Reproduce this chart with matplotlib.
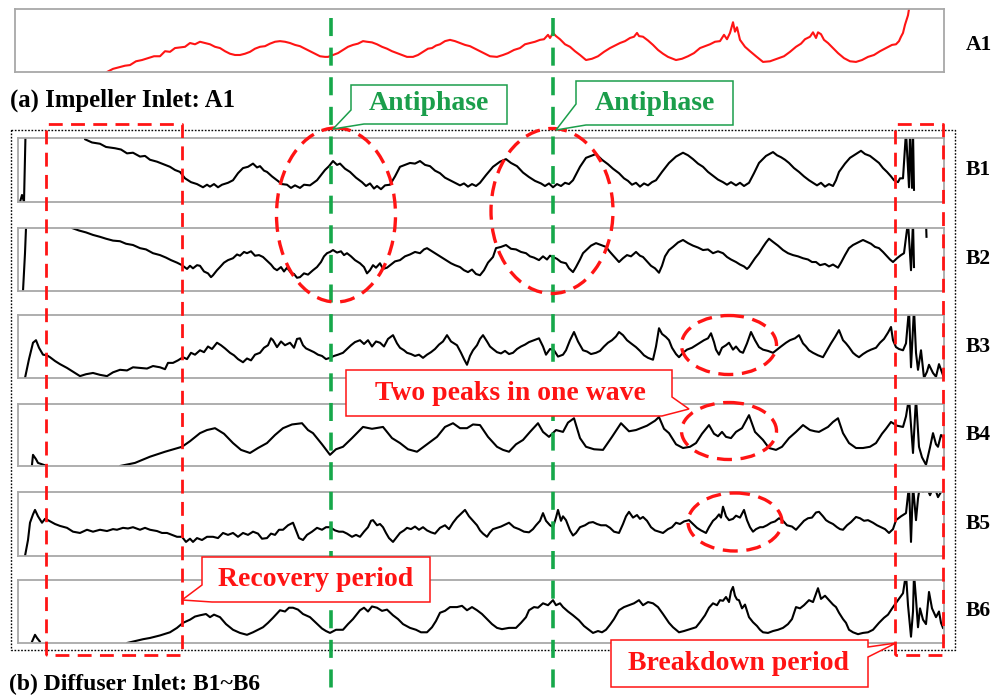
import numpy as np
import matplotlib.pyplot as plt
from matplotlib.patches import Ellipse, Polygon

plt.rcParams['font.family'] = ['Liberation Serif', 'DejaVu Serif']

# pressure traces: sample index vs. normalised pressure (% of panel range)
t_a1 = [107, 113, 120, 125, 130, 136, 142, 148, 154, 160, 165, 170, 175, 180, 185, 190, 195, 200, 205, 210,
        215, 220, 225, 230, 235, 240, 245, 250, 255, 260, 265, 270, 275, 280, 285, 290, 295, 300, 305, 310,
        315, 320, 325, 328, 333, 338, 343, 348, 353, 358, 363, 367, 372, 377, 382, 387, 392, 397, 402, 407,
        413, 418, 423, 428, 432, 436, 440, 445, 450, 455, 460, 465, 470, 475, 480, 485, 490, 497, 503, 508,
        514, 520, 525, 530, 535, 540, 544, 548, 550, 553, 556, 560, 565, 570, 575, 580, 586, 592, 598, 604,
        610, 615, 620, 625, 630, 634, 637, 639, 643, 648, 653, 658, 663, 668, 676, 682, 688, 694, 700, 705,
        710, 715, 720, 724, 727, 730, 733, 735, 737, 740, 745, 750, 756, 763, 770, 777, 784, 790, 796, 801,
        805, 810, 813, 816, 818, 821, 824, 828, 833, 838, 844, 850, 856, 862, 868, 874, 880, 886, 892, 896,
        899, 901, 903, 905, 908, 910]
p_a1 = [0, 5, 8, 10, 11, 17, 19, 22, 25, 25, 33, 32, 38, 39, 40, 46, 44, 48, 46, 44,
        40, 38, 33, 29, 27, 27, 29, 32, 37, 40, 41, 45, 48, 49, 48, 46, 43, 41, 37, 33,
        29, 25, 24, 24, 27, 30, 35, 40, 43, 45, 49, 48, 47, 44, 40, 37, 33, 30, 27, 24,
        24, 27, 32, 37, 38, 42, 44, 49, 51, 49, 46, 43, 41, 37, 33, 29, 25, 24, 27, 30,
        35, 38, 44, 46, 48, 51, 52, 59, 54, 62, 57, 52, 44, 40, 33, 27, 19, 21, 25, 32,
        38, 42, 46, 49, 54, 56, 62, 57, 56, 50, 43, 35, 29, 24, 19, 21, 25, 30, 38, 41,
        44, 48, 49, 59, 52, 62, 79, 64, 71, 51, 40, 33, 25, 16, 17, 21, 25, 32, 40, 45,
        52, 56, 63, 54, 63, 60, 51, 46, 38, 30, 22, 17, 16, 19, 24, 27, 33, 38, 43, 44,
        49, 56, 62, 75, 90, 110]

t_b1 = [20, 22, 24, 25, 26, 84, 85, 92, 100, 106, 115, 121, 127, 133, 140, 145, 150, 157, 165, 170,
        175, 180, 185, 191, 197, 203, 207, 210, 214, 218, 222, 228, 233, 238, 243, 248, 253, 257, 260, 264,
        267, 272, 277, 282, 287, 291, 295, 300, 304, 310, 317, 321, 325, 329, 333, 337, 340, 345, 350, 356,
        362, 366, 370, 374, 377, 381, 385, 390, 395, 400, 405, 410, 415, 420, 425, 430, 435, 440, 445, 450,
        455, 460, 464, 468, 472, 476, 480, 486, 493, 500, 506, 511, 517, 523, 529, 535, 541, 545, 549, 553,
        557, 561, 565, 569, 573, 580, 586, 591, 596, 602, 608, 613, 619, 624, 628, 632, 636, 640, 644, 648,
        652, 656, 662, 669, 676, 683, 688, 693, 698, 703, 708, 713, 718, 723, 727, 731, 736, 740, 744, 749,
        754, 759, 766, 773, 777, 781, 785, 789, 794, 799, 804, 809, 813, 817, 821, 825, 829, 833, 836, 839,
        845, 850, 855, 861, 865, 870, 875, 879, 883, 887, 891, 894, 898, 900, 903, 906, 909, 910, 912, 913,
        914]
p_b1 = [0, 11, 0, 70, 140, 140, 98, 93, 91, 86, 84, 82, 76, 77, 71, 72, 66, 63, 58, 55,
        50, 47, 37, 31, 28, 23, 27, 24, 28, 23, 27, 30, 34, 45, 53, 55, 60, 54, 56, 49,
        47, 40, 34, 28, 27, 22, 26, 22, 27, 26, 34, 42, 50, 56, 64, 58, 60, 52, 47, 38,
        31, 25, 29, 21, 25, 20, 26, 27, 40, 55, 58, 61, 60, 64, 58, 56, 49, 45, 38, 34,
        30, 26, 29, 24, 28, 25, 30, 42, 55, 63, 67, 61, 56, 46, 39, 33, 29, 25, 29, 23,
        28, 25, 30, 28, 34, 55, 69, 72, 75, 66, 59, 52, 45, 37, 33, 27, 30, 24, 29, 26,
        31, 34, 47, 61, 71, 77, 73, 67, 60, 55, 47, 41, 35, 31, 27, 31, 26, 30, 25, 30,
        45, 61, 72, 78, 73, 70, 66, 61, 53, 47, 40, 34, 30, 26, 30, 24, 28, 25, 34, 47,
        60, 69, 74, 80, 75, 72, 66, 61, 53, 47, 40, 34, 31, 37, 37, 110, 23, 110, 22, 110,
        19]

t_b2 = [23, 25, 27, 71, 72, 79, 86, 93, 100, 106, 113, 120, 126, 133, 140, 146, 153, 160, 166, 171,
        177, 182, 187, 190, 193, 197, 200, 204, 208, 211, 213, 217, 220, 224, 228, 233, 237, 240, 244, 247,
        251, 255, 259, 263, 267, 271, 274, 277, 281, 284, 287, 291, 294, 297, 300, 304, 308, 313, 317, 321,
        324, 327, 330, 333, 337, 341, 344, 347, 351, 355, 360, 364, 367, 370, 373, 376, 380, 383, 387, 391,
        395, 400, 405, 410, 415, 420, 424, 427, 431, 435, 439, 443, 447, 451, 455, 460, 464, 468, 472, 476,
        480, 484, 488, 493, 496, 501, 506, 511, 516, 521, 526, 530, 534, 539, 543, 547, 550, 553, 557, 561,
        566, 569, 573, 576, 580, 583, 587, 591, 596, 601, 606, 610, 614, 619, 623, 627, 631, 636, 640, 643,
        647, 651, 655, 659, 662, 665, 669, 673, 678, 683, 688, 693, 698, 703, 708, 713, 718, 723, 727, 731,
        736, 740, 744, 747, 749, 752, 755, 759, 763, 766, 769, 773, 778, 783, 788, 793, 798, 803, 808, 812,
        816, 820, 825, 829, 833, 838, 841, 845, 849, 853, 858, 863, 867, 871, 875, 879, 883, 887, 890, 893,
        897, 901, 904, 908, 911, 913, 914, 920, 926, 926.5]
p_b2 = [0, 60, 140, 140, 100, 96, 93, 89, 86, 83, 80, 79, 75, 73, 68, 66, 60, 57, 53, 49,
        45, 41, 35, 40, 36, 41, 40, 31, 28, 22, 25, 33, 38, 45, 49, 52, 58, 56, 62, 60,
        63, 56, 57, 54, 48, 42, 36, 33, 38, 31, 37, 29, 27, 21, 22, 28, 26, 33, 38, 46,
        55, 60, 62, 65, 61, 63, 57, 60, 55, 49, 44, 38, 28, 33, 41, 37, 44, 35, 37, 42,
        47, 49, 55, 58, 62, 60, 66, 68, 64, 60, 56, 52, 48, 44, 41, 38, 33, 30, 34, 27,
        25, 33, 45, 54, 68, 70, 73, 67, 66, 62, 60, 55, 53, 49, 55, 50, 56, 54, 51, 46,
        44, 36, 30, 38, 50, 60, 66, 72, 76, 73, 70, 62, 55, 46, 52, 57, 55, 62, 56, 54,
        47, 40, 36, 29, 40, 55, 65, 70, 77, 81, 76, 72, 69, 65, 66, 60, 63, 60, 54, 50,
        46, 42, 39, 35, 38, 45, 52, 60, 70, 77, 83, 78, 72, 65, 60, 57, 55, 52, 50, 46,
        46, 41, 43, 39, 42, 37, 45, 57, 68, 73, 77, 81, 78, 75, 70, 68, 62, 55, 50, 46,
        52, 57, 60, 110, 33, 110, 38, np.nan, 110, 86]

t_b3 = [25, 29, 33, 36, 39, 43, 47, 50, 55, 60, 67, 73, 80, 86, 93, 100, 107, 113, 120, 127,
        133, 140, 147, 153, 160, 165, 168, 173, 178, 183, 187, 191, 195, 200, 204, 208, 212, 217, 221, 225,
        230, 234, 238, 243, 247, 251, 255, 260, 264, 268, 271, 273, 277, 281, 285, 290, 294, 297, 300, 303,
        306, 310, 314, 318, 322, 326, 330, 334, 338, 343, 347, 351, 355, 360, 364, 368, 372, 376, 380, 384,
        388, 393, 397, 400, 404, 407, 411, 415, 419, 423, 427, 431, 435, 439, 443, 447, 451, 454, 457, 461,
        464, 467, 470, 473, 477, 480, 483, 487, 490, 493, 497, 501, 505, 509, 513, 517, 521, 525, 529, 534,
        539, 543, 546, 550, 554, 558, 563, 566, 570, 574, 578, 583, 587, 591, 596, 600, 604, 608, 612, 616,
        619, 623, 627, 631, 636, 640, 644, 648, 653, 656, 659, 662, 666, 669, 672, 676, 679, 683, 687, 692,
        696, 700, 704, 708, 711, 714, 716, 719, 722, 726, 729, 733, 736, 740, 743, 747, 751, 755, 759, 763,
        768, 773, 777, 781, 786, 790, 795, 799, 803, 806, 809, 813, 818, 823, 827, 831, 835, 839, 843, 846,
        849, 853, 856, 859, 863, 867, 871, 876, 880, 884, 888, 891, 893, 896, 899, 903, 906, 909, 911, 914,
        916, 918, 921, 924, 927, 929, 933, 936, 939, 941, 944]
p_b3 = [0, 30, 56, 60, 48, 37, 36, 33, 27, 22, 16, 10, 3, 6, 8, 5, 3, 9, 13, 12,
        17, 16, 15, 19, 17, 14, 24, 24, 28, 33, 30, 40, 37, 44, 41, 50, 46, 56, 52, 47,
        40, 36, 30, 25, 31, 28, 37, 40, 48, 52, 63, 60, 49, 58, 52, 56, 48, 62, 63, 52,
        47, 44, 41, 37, 35, 30, 32, 35, 37, 40, 46, 52, 57, 60, 54, 60, 50, 58, 56, 50,
        62, 68, 55, 48, 44, 40, 38, 35, 37, 32, 37, 41, 46, 53, 58, 68, 58, 55, 52, 40,
        30, 21, 35, 44, 52, 62, 68, 58, 50, 46, 41, 39, 43, 38, 40, 46, 50, 53, 57, 60,
        63, 50, 37, 46, 44, 34, 37, 44, 60, 73, 58, 44, 42, 38, 40, 43, 50, 56, 60, 66,
        73, 68, 60, 55, 49, 43, 36, 32, 29, 50, 79, 70, 65, 60, 48, 38, 33, 40, 45, 48,
        52, 56, 60, 63, 71, 57, 45, 37, 48, 52, 56, 45, 50, 42, 40, 55, 73, 60, 49, 45,
        43, 40, 45, 50, 56, 60, 63, 68, 55, 50, 44, 40, 36, 33, 44, 55, 65, 76, 60, 55,
        49, 40, 36, 33, 38, 42, 45, 48, 56, 62, 72, 81, 60, 49, 46, 44, 55, 110, 17, 110,
        40, 13, 44, 0, 10, 21, 8, 2, 22, 13, 0]

t_b4 = [32, 33, 36, 38, 47, 48, 118, 120, 135, 150, 165, 182, 190, 200, 207, 215, 224, 233, 241, 250,
        258, 267, 275, 283, 292, 302, 308, 313, 322, 330, 336, 343, 352, 363, 372, 383, 392, 400, 408, 417,
        427, 437, 445, 453, 460, 467, 473, 480, 488, 497, 503, 509, 516, 523, 530, 538, 543, 549, 556, 563,
        568, 574, 580, 586, 594, 603, 612, 621, 629, 636, 647, 655, 659, 664, 669, 676, 683, 690, 696, 702,
        709, 714, 718, 722, 726, 731, 736, 742, 749, 755, 763, 769, 776, 782, 789, 796, 803, 810, 815, 819,
        828, 833, 838, 843, 849, 856, 863, 870, 876, 882, 886, 891, 897, 903, 906, 909, 913, 916, 919, 922,
        926, 930, 933, 936, 938, 941, 944]
p_b4 = [2, 18, 11, 5, 0, -30, -30, 0, 5, 15, 23, 31, 40, 53, 58, 61, 52, 37, 26, 21,
        29, 37, 50, 61, 67, 69, 58, 53, 35, 18, 27, 31, 45, 63, 60, 63, 45, 37, 27, 23,
        35, 47, 63, 69, 61, 61, 67, 66, 47, 31, 26, 23, 35, 42, 55, 69, 55, 47, 58, 55,
        70, 77, 45, 31, 27, 26, 47, 69, 56, 58, 65, 73, 79, 60, 53, 35, 29, 31, 37, 52,
        66, 52, 48, 55, 47, 45, 55, 61, 82, 55, 42, 29, 26, 31, 45, 55, 66, 58, 56, 55,
        63, 71, 77, 53, 37, 29, 29, 31, 37, 52, 60, 71, 65, 63, 80, 110, 21, 110, 31, 14,
        2, 30, 53, 35, 31, 50, 45]

t_b5 = [25, 28, 30, 33, 35, 38, 42, 45, 48, 55, 60, 67, 73, 80, 87, 93, 100, 107, 113, 117,
        123, 128, 133, 140, 145, 150, 157, 162, 167, 172, 177, 182, 186, 190, 193, 197, 202, 207, 213, 218,
        223, 228, 233, 238, 243, 248, 253, 258, 262, 267, 271, 275, 279, 283, 288, 293, 296, 299, 303, 307,
        312, 317, 322, 326, 330, 335, 339, 343, 347, 352, 356, 360, 364, 368, 371, 373, 377, 380, 383, 386,
        389, 393, 397, 400, 404, 407, 411, 415, 419, 423, 427, 431, 435, 440, 445, 449, 453, 457, 461, 465,
        469, 473, 477, 480, 483, 487, 490, 493, 497, 501, 505, 509, 514, 519, 524, 529, 533, 536, 540, 543,
        546, 550, 553, 556, 558, 561, 563, 566, 570, 573, 576, 580, 585, 589, 593, 597, 601, 606, 610, 614,
        619, 623, 626, 629, 633, 637, 640, 643, 647, 651, 655, 659, 663, 668, 672, 676, 680, 684, 689, 693,
        697, 701, 706, 709, 713, 716, 719, 721, 723, 726, 729, 733, 736, 740, 744, 747, 750, 753, 756, 760,
        763, 767, 771, 775, 779, 783, 787, 792, 796, 800, 804, 808, 812, 816, 819, 823, 826, 829, 833, 837,
        840, 843, 847, 851, 856, 860, 864, 868, 873, 877, 881, 885, 889, 893, 896, 901, 906, 909, 911, 913,
        916, 918, 920, 923, 926, 930, 934, 938, 941, 944]
p_b5 = [0, 25, 52, 65, 72, 62, 52, 58, 56, 50, 47, 44, 38, 36, 41, 38, 41, 39, 42, 41,
        44, 43, 45, 41, 44, 41, 39, 36, 36, 33, 30, 30, 22, 27, 22, 28, 25, 30, 30, 28,
        36, 33, 36, 30, 36, 33, 38, 35, 27, 28, 35, 33, 41, 41, 48, 52, 40, 28, 25, 33,
        38, 44, 41, 45, 45, 40, 38, 38, 35, 30, 33, 30, 38, 45, 55, 56, 48, 50, 45, 36,
        28, 22, 30, 36, 40, 44, 42, 46, 41, 45, 40, 37, 35, 44, 48, 42, 52, 60, 66, 72,
        62, 55, 48, 40, 35, 30, 37, 42, 44, 46, 49, 52, 45, 42, 38, 37, 42, 48, 55, 67,
        55, 48, 45, 60, 72, 55, 62, 56, 40, 32, 36, 45, 48, 52, 53, 50, 48, 48, 44, 38,
        36, 50, 62, 69, 60, 64, 58, 61, 55, 45, 40, 38, 36, 42, 45, 52, 50, 54, 56, 50,
        44, 40, 36, 45, 55, 59, 65, 60, 77, 62, 56, 58, 63, 60, 72, 56, 45, 38, 42, 45,
        45, 48, 52, 54, 59, 55, 48, 46, 41, 48, 55, 59, 60, 68, 69, 62, 56, 53, 50, 45,
        42, 41, 48, 53, 61, 59, 55, 56, 52, 48, 45, 42, 36, 42, 56, 62, 67, 110, 22, 110,
        56, 90, 110, 100, 110, 95, 110, 92, 100, 110]

t_b6 = [32, 35, 37, 40, 42, 125, 127, 135, 143, 150, 160, 170, 177, 183, 190, 195, 200, 206, 210, 214,
        220, 226, 233, 240, 247, 253, 258, 263, 268, 273, 280, 285, 289, 293, 298, 303, 310, 316, 322, 326,
        330, 336, 343, 348, 353, 360, 364, 368, 372, 377, 382, 387, 393, 398, 403, 410, 416, 421, 427, 432,
        436, 440, 445, 450, 457, 462, 467, 472, 477, 482, 487, 492, 497, 502, 509, 516, 521, 526, 529, 534,
        538, 543, 548, 553, 556, 560, 563, 568, 573, 579, 584, 589, 593, 598, 602, 606, 610, 614, 619, 624,
        629, 634, 639, 643, 648, 653, 658, 663, 669, 673, 676, 679, 684, 690, 696, 700, 705, 709, 713, 717,
        720, 723, 726, 729, 731, 733, 735, 737, 739, 742, 745, 749, 753, 757, 760, 763, 768, 773, 778, 783,
        788, 792, 796, 800, 804, 809, 813, 816, 818, 821, 825, 829, 833, 836, 839, 843, 846, 849, 853, 858,
        863, 868, 873, 879, 884, 888, 893, 898, 903, 906, 908, 911, 913, 914, 916, 918, 920, 923, 926, 929,
        932, 936, 939, 941, 943]
p_b6 = [2, 13, 8, 2, -30, -30, 0, 3, 6, 8, 12, 17, 24, 32, 37, 42, 44, 46, 41, 45,
        41, 30, 21, 16, 13, 17, 21, 25, 32, 40, 52, 50, 56, 56, 53, 46, 41, 32, 23, 19,
        16, 21, 21, 30, 38, 52, 56, 50, 58, 56, 51, 53, 44, 38, 30, 24, 21, 17, 17, 25,
        35, 48, 51, 57, 57, 59, 52, 57, 52, 46, 38, 30, 24, 22, 24, 24, 32, 41, 52, 57,
        56, 63, 60, 68, 60, 63, 57, 50, 44, 36, 27, 21, 16, 19, 17, 21, 29, 38, 52, 57,
        60, 63, 68, 60, 65, 63, 57, 46, 32, 25, 21, 17, 19, 22, 25, 33, 44, 56, 63, 60,
        68, 67, 73, 65, 82, 89, 75, 69, 68, 55, 61, 41, 33, 27, 21, 17, 16, 19, 21, 24,
        30, 38, 57, 55, 60, 68, 65, 78, 87, 70, 75, 68, 61, 57, 48, 38, 32, 21, 17, 14,
        16, 17, 21, 32, 40, 45, 57, 68, 79, 110, 60, 10, 50, 110, 70, 25, 55, 37, 30, 81,
        55, 41, 50, 32, 24]

W, H = 996, 699
RED = '#ff1414'
GREEN = '#16a84a'
GREEN_TXT = '#1b9e4b'
FRAME = '#a8a8a8'
LABEL = dict(fontweight='bold', color='black')

fig = plt.figure(figsize=(W / 100, H / 100), dpi=100)


def panel(left, top, right, bottom):
    ax = fig.add_axes([left / W, 1 - bottom / H, (right - left) / W, (bottom - top) / H])
    ax.set_xlim(left, right)
    ax.set_ylim(0, 100)
    ax.set_xticks([])
    ax.set_yticks([])
    for s in ax.spines.values():
        s.set_color(FRAME)
        s.set_linewidth(1.3)
    return ax


ax_a = panel(15, 9, 944, 72)
ax_a.plot(t_a1, p_a1, color=RED, lw=1.5)

traces = [(t_b1, p_b1), (t_b2, p_b2), (t_b3, p_b3), (t_b4, p_b4), (t_b5, p_b5), (t_b6, p_b6)]
rows = [(138, 202), (228, 291), (315, 378), (404, 466), (492, 556), (580, 643)]
for (t, p), (top, bot) in zip(traces, rows):
    ax = panel(18, top, 944, bot)
    ax.plot(t, p, color='black', lw=1.5)

# annotation layer in pixel coordinates
ov = fig.add_axes([0, 0, 1, 1], zorder=10)
ov.set_xlim(0, W)
ov.set_ylim(H, 0)
ov.axis('off')
ov.patch.set_alpha(0)

ov.text(966, 45, 'A1', fontsize=15.5, va='center', **LABEL)
for i, (top, bot) in enumerate(rows):
    ov.text(966, (top + bot) / 2, f'B{i + 1}', fontsize=15.5, va='center', **LABEL)

ov.text(10, 100, '(a) Impeller Inlet: A1', fontsize=17.8, va='center', **LABEL)
ov.text(9, 684, '(b) Diffuser Inlet: B1~B6', fontsize=17, va='center', **LABEL)

# dotted frame round the diffuser group
ov.plot([11, 955, 955, 11, 11], [130, 130, 650, 650, 130], color='black', lw=1.0, ls=(0, (1.2, 1.2)))

# phase markers
for x in (331, 553):
    ov.plot([x, x], [18, 688], color=GREEN, lw=2.6, ls=(0, (5, 3.2)), zorder=2)

dash = (0, (4.5, 2.6))
for cx, cy, w, h in [(336, 215, 119, 174), (552, 211, 122, 165),
                     (729, 345, 95, 59), (729, 431, 95, 57), (735, 522, 94, 58)]:
    ov.add_patch(Ellipse((cx, cy), w, h, fill=False, ec=RED, lw=2.4, ls=dash, zorder=3))

for x0, x1 in [(46, 182), (895, 943)]:
    ov.plot([x0, x0, x1, x1, x0], [655, 124, 124, 655, 655], color=RED, lw=2.0,
            ls=(0, (5, 3)), zorder=3)


def callout(verts, text, color, cx, cy, size=20):
    ov.add_patch(Polygon(verts, closed=True, fc='white', ec=color, lw=1.1, zorder=4))
    ov.text(cx, cy, text, color=color, fontsize=size, fontweight='bold',
            ha='center', va='center', zorder=5)


callout([(351, 85), (507, 85), (507, 124), (364, 124), (333, 129), (351, 110)],
        'Antiphase', GREEN_TXT, 429, 104)
callout([(576, 81), (733, 81), (733, 125), (586, 125), (556, 130), (576, 104)],
        'Antiphase', GREEN_TXT, 655, 103)
callout([(346, 370), (672, 370), (672, 397), (689, 409), (662, 416), (346, 416)],
        'Two peaks in one wave', RED, 510, 393)
callout([(202, 557), (430, 557), (430, 602), (212, 602), (182, 600), (202, 585)],
        'Recovery period', RED, 316, 580)
callout([(611, 640), (868, 640), (868, 647), (896, 643), (868, 657), (868, 687), (611, 687)],
        'Breakdown period', RED, 739, 664)

fig.savefig('out.png', dpi=100)
